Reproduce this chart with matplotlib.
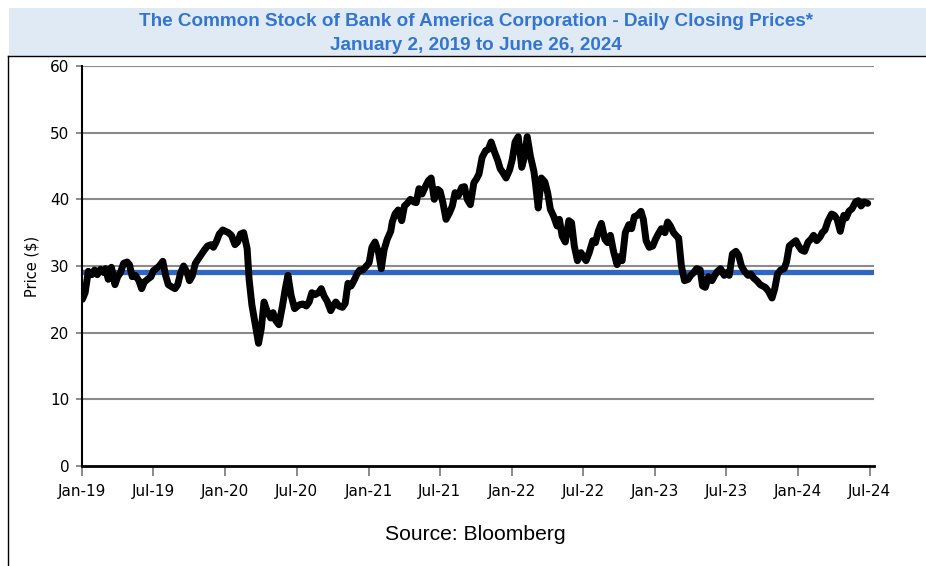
import matplotlib
matplotlib.use("Agg")
import matplotlib.pyplot as plt
import matplotlib.dates as mdates
from matplotlib.patches import Rectangle
from matplotlib.lines import Line2D
import pandas as pd

# approximate closing prices, 4 per month (days 2, 9, 17, 26)
prices_2019 = [25.0, 26.0, 29.2, 28.7, 29.4, 28.7, 29.5, 29.0, 29.6, 28.0, 29.8, 27.2,
               28.4, 29.0, 30.4, 30.6, 30.2, 28.4, 28.6, 27.8, 26.6, 27.6, 28.0, 28.4,
               29.3, 29.6, 30.0, 30.7, 28.6, 27.2, 26.9, 26.6, 27.2, 28.9, 30.0, 29.0,
               27.8, 28.5, 30.4, 31.2, 31.8, 32.4, 33.0, 33.2, 32.8, 33.6, 34.8, 35.4]
prices_2020 = [35.2, 35.0, 34.6, 33.2, 33.6, 34.8, 35.0, 32.6, 28.0, 24.2, 21.5, 18.4,
               20.6, 24.6, 23.2, 22.2, 23.0, 21.8, 21.2, 24.0, 26.5, 28.6, 25.6, 23.6,
               23.9, 24.2, 24.3, 24.0, 24.6, 26.0, 25.7, 26.0, 26.6, 25.5, 24.7, 23.3,
               24.0, 24.6, 24.0, 23.8, 24.4, 27.4, 27.0, 28.0, 28.8, 29.4, 29.4, 30.0]
prices_2021 = [30.5, 32.8, 33.6, 32.0, 29.6, 32.4, 34.0, 35.2, 36.6, 37.8, 38.4, 36.8,
               39.0, 39.4, 40.0, 39.6, 39.5, 41.6, 40.8, 42.0, 42.8, 43.2, 40.0, 41.5,
               41.2, 39.5, 37.0, 38.0, 39.0, 41.0, 40.5, 41.8, 41.9, 40.0, 39.2, 42.5,
               43.0, 43.8, 46.3, 47.3, 47.5, 48.6, 47.2, 45.8, 44.6, 44.0, 43.2, 44.4]
prices_2022 = [46.0, 48.6, 49.4, 44.8, 46.4, 49.4, 46.5, 44.2, 42.4, 38.7, 43.2, 42.6,
               41.0, 38.5, 37.5, 36.0, 37.0, 34.5, 33.6, 36.8, 36.5, 33.0, 30.8, 32.0,
               31.4, 30.8, 32.0, 33.8, 33.5, 35.2, 36.4, 34.0, 33.5, 34.6, 32.2, 30.2,
               31.4, 30.8, 35.0, 36.2, 35.6, 37.4, 37.6, 38.2, 37.0, 33.8, 32.8, 33.0]
prices_2023 = [34.0, 34.8, 35.6, 35.0, 36.6, 36.0, 35.0, 34.4, 34.2, 30.0, 27.8, 28.0,
               28.6, 29.0, 29.6, 29.4, 27.0, 26.8, 28.4, 27.8, 28.6, 29.2, 29.6, 28.6,
               29.0, 28.6, 31.8, 32.2, 31.6, 30.0, 29.2, 28.6, 28.8, 28.2, 27.8, 27.2,
               27.0, 26.8, 26.2, 25.2, 26.6, 28.8, 29.4, 29.6, 30.6, 33.0, 33.4, 33.8]
prices_2024 = [33.0, 32.4, 32.2, 33.6, 34.0, 34.6, 33.8, 34.4, 35.0, 35.4, 36.8, 37.8,
               37.6, 37.0, 35.2, 37.6, 37.2, 38.2, 38.6, 39.6, 39.8, 39.0, 39.6, 39.4]

reference_price = 29.15
tick_dates = pd.date_range("2019-01-01", "2024-07-01", freq="6MS")
y_ticks = [0, 10, 20, 30, 40, 50, 60]

prices = prices_2019 + prices_2020 + prices_2021 + prices_2022 + prices_2023 + prices_2024
months = pd.date_range("2019-01-01", "2024-06-01", freq="MS")
dates = [m + pd.Timedelta(days=d - 1) for m in months for d in (2, 9, 17, 26)]

fig = plt.figure(figsize=(9.26, 5.66), dpi=100)
ax = fig.add_axes([82 / 926, 100 / 566, (874 - 82) / 926, 400 / 566])

# header band and frame
fig.patches.append(Rectangle((9 / 926, 1 - 56 / 566), 1, 48 / 566, transform=fig.transFigure,
                             facecolor="#dfeaf4", edgecolor="none", zorder=0))
fig.lines.append(Line2D([8 / 926, 1], [1 - 56 / 566] * 2, transform=fig.transFigure, color="black", lw=1))
fig.lines.append(Line2D([8 / 926] * 2, [0, 1 - 56 / 566], transform=fig.transFigure, color="black", lw=1))

title_color = "#3375cf"
fig.text(476 / 926, 1 - 22 / 566, "The Common Stock of Bank of America Corporation - Daily Closing Prices*",
         ha="center", va="center", fontsize=13.6, fontweight="bold", color=title_color,
         family="Liberation Sans")
fig.text(476 / 926, 1 - 45 / 566, "January 2, 2019 to June 26, 2024",
         ha="center", va="center", fontsize=13.6, fontweight="bold", color=title_color,
         family="Liberation Sans")
fig.text(475 / 926, 1 - 535 / 566, "Source: Bloomberg", ha="center", va="center",
         fontsize=15.2, family="Liberation Sans")

for y in y_ticks[1:]:
    ax.axhline(y, color="#8a8a8a", lw=1.5, zorder=1)
ax.axhline(reference_price, color="#2f66c4", lw=3.8, zorder=2, solid_capstyle="round")
ax.plot(dates, prices, color="black", lw=5, zorder=3,
        solid_joinstyle="round", solid_capstyle="round")

ax.set_xlim(pd.Timestamp("2019-01-01"), pd.Timestamp("2024-07-12"))
ax.set_ylim(0, 60)
ax.set_yticks(y_ticks)
ax.set_xticks(tick_dates)
ax.xaxis.set_major_formatter(mdates.DateFormatter("%b-%y"))
ax.tick_params(axis="x", length=7, width=1.2, color="#777777", pad=6, labelsize=11)
ax.tick_params(axis="y", length=4, width=1.2, color="#777777", pad=5, labelsize=11)
ax.set_ylabel("Price ($)", fontsize=10.5, labelpad=8)

for s in ("top", "right"):
    ax.spines[s].set_visible(False)
ax.spines["left"].set_linewidth(1.5)
ax.spines["bottom"].set_linewidth(2)

fig.savefig("out.png", dpi=100)
